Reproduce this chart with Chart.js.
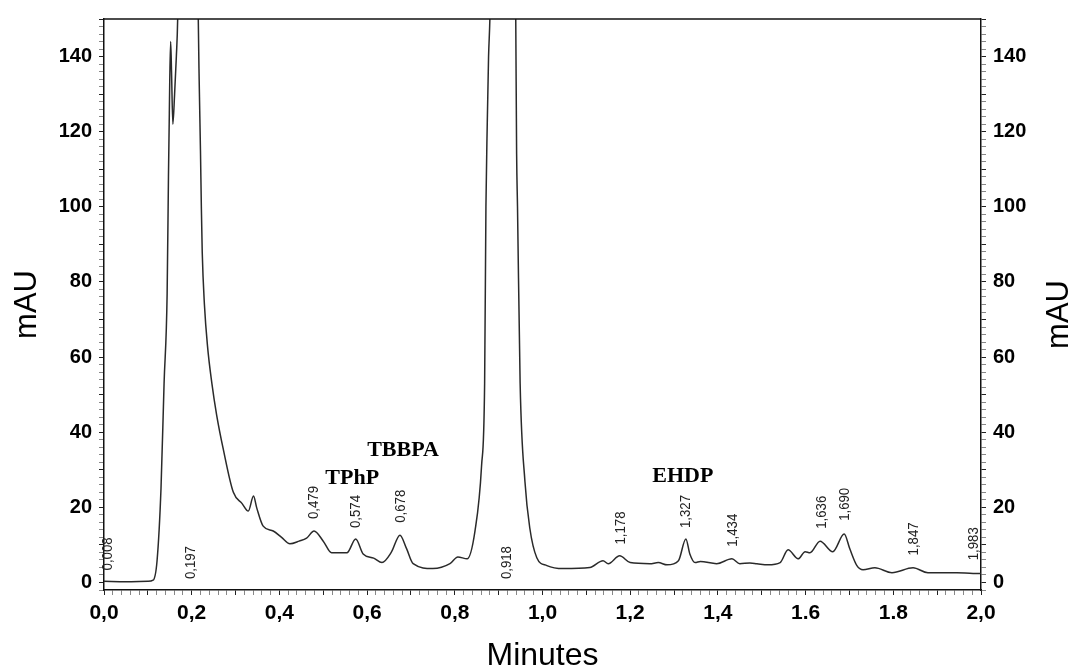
<!DOCTYPE html>
<html>
<head>
<meta charset="utf-8">
<script src="https://cdn.jsdelivr.net/npm/chart.js@4"></script>
<style>
  html, body { margin: 0; padding: 0; background: #fff; }
  #wrap { width: 1076px; height: 669px; }
</style>
</head>
<body>
<div id="wrap"><canvas id="chromChart" width="1076" height="669"></canvas></div>
<script>
// retention time (min) and absorbance (mAU)
const times = [0.000, 0.050, 0.100, 0.112, 0.121, 0.130, 0.137, 0.144, 0.147, 0.149, 0.150, 0.152, 0.154, 0.157, 0.161, 0.165, 0.168,
    0.197, 0.215, 0.217, 0.220, 0.222, 0.224, 0.229, 0.236, 0.246, 0.257, 0.272, 0.295, 0.315, 0.329, 0.341, 0.348, 0.363,
    0.386, 0.405, 0.424, 0.445, 0.462, 0.479, 0.500, 0.519, 0.554, 0.574, 0.591, 0.615, 0.634, 0.655, 0.675, 0.690,
    0.705, 0.750, 0.789, 0.807, 0.828, 0.846, 0.861, 0.868, 0.871, 0.874, 0.877, 0.880,
    0.918, 0.939, 0.941, 0.943, 0.949, 0.960, 0.971, 0.987, 1.010, 1.047, 1.108, 1.138, 1.150, 1.176, 1.200,
    1.245, 1.264, 1.284, 1.310, 1.327, 1.336, 1.348, 1.360, 1.397, 1.432, 1.450, 1.473, 1.489, 1.514, 1.542,
    1.560, 1.583, 1.599, 1.610, 1.633, 1.662, 1.688, 1.701, 1.717, 1.731, 1.758, 1.797, 1.845, 1.879, 1.945, 1.982, 2.000];
const signal = [0.3, 0.2, 0.3, 0.6, 5.8, 25, 53, 77, 108, 125, 134, 144, 136, 122, 130, 140, 150,
    400, 150, 134, 115, 100, 88, 74, 63, 53, 44.5, 35.5, 24, 21, 19, 23, 20, 15,
    13.7, 12, 10.3, 11, 11.8, 13.7, 11, 7.9, 7.9, 11.6, 7.6, 6.5, 5.3, 8, 12.6, 9,
    5, 3.7, 5, 6.8, 6.3, 13.7, 31, 53, 100, 122, 140, 150,
    400, 150, 114, 100, 53, 26.8, 14.5, 6.6, 4.5, 3.7, 4, 5.8, 5, 7.1, 5.3,
    5, 5.3, 4.7, 5.8, 11.6, 7.6, 5.3, 5.6, 5, 6.3, 5, 5.2, 5, 4.7, 5.3,
    8.7, 6.3, 8.2, 7.9, 11, 8.2, 12.9, 8.9, 4.5, 3.4, 3.9, 2.6, 3.9, 2.6, 2.6, 2.4, 2.4];

// peak retention-time labels and the mAU level where each label sits
const rtLabels = ['0,008', '0,197', '0,479', '0,574', '0,678', '0,918', '1,178', '1,327', '1,434', '1,636', '1,690', '1,847', '1,983'];
const rtLabelY = [7.6, 5.3, 21.3, 18.9, 20.3, 5.3, 14.5, 18.9, 13.9, 18.7, 20.8, 11.6, 10.3];

// compound names
const compounds = ['TBBPA', 'TPhP', 'EHDP'];
const compoundX = [0.682, 0.566, 1.320];
const compoundY = [35.3, 27.6, 28.2];

// axis tick labels
const xTickLabels = ['0,0', '0,2', '0,4', '0,6', '0,8', '1,0', '1,2', '1,4', '1.6', '1.8', '2,0'];
const yTickLabels = ['0', '20', '40', '60', '80', '100', '120', '140'];

const points = times.map((t, i) => ({ x: t, y: signal[i] }));

const tickFont = { family: 'Liberation Sans', weight: 'bold', size: 20 };

function yTick(value) {
    if (value >= 0 && value % 20 === 0) return yTickLabels[value / 20];
    return '';
}

function yTickColor(c) {
    return c.tick && c.tick.value % 10 === 0 ? '#222' : '#888';
}

const annotate = {
    id: 'annotate',
    afterDraw(chart) {
        const { ctx, chartArea, scales: { x, y } } = chart;
        ctx.save();
        // top frame line
        ctx.strokeStyle = '#111';
        ctx.lineWidth = 1.5;
        ctx.beginPath();
        ctx.moveTo(chartArea.left, chartArea.top);
        ctx.lineTo(chartArea.right, chartArea.top);
        ctx.stroke();

        // rotated retention times
        ctx.fillStyle = '#222';
        ctx.font = '15px "Liberation Sans"';
        ctx.textAlign = 'center';
        ctx.textBaseline = 'middle';
        rtLabels.forEach((lab, i) => {
            const t = parseFloat(lab.replace(',', '.'));
            ctx.save();
            ctx.translate(x.getPixelForValue(t), y.getPixelForValue(rtLabelY[i]));
            ctx.rotate(-Math.PI / 2);
            ctx.scale(0.88, 1);
            ctx.fillText(lab, 0, 0);
            ctx.restore();
        });

        // compound names
        ctx.fillStyle = '#000';
        ctx.font = 'bold 22px "Liberation Serif"';
        compounds.forEach((name, i) => {
            ctx.fillText(name, x.getPixelForValue(compoundX[i]), y.getPixelForValue(compoundY[i]));
        });

        // right axis title, same direction as the left one
        ctx.font = '31px "Liberation Sans"';
        ctx.save();
        ctx.translate(1059, (chartArea.top + chartArea.bottom) / 2 + 10);
        ctx.rotate(-Math.PI / 2);
        ctx.fillText('mAU', 0, 0);
        ctx.restore();
        ctx.restore();
    }
};

const ctx = document.getElementById('chromChart').getContext('2d');
new Chart(ctx, {
    type: 'line',
    data: {
        datasets: [{
            data: points,
            borderColor: '#2a2a2a',
            borderWidth: 1.5,
            pointRadius: 0,
            cubicInterpolationMode: 'monotone',
            fill: false
        }]
    },
    options: {
        responsive: false,
        animation: false,
        layout: { padding: { top: 14, left: 0, right: 0, bottom: 0 } },
        plugins: {
            legend: { display: false },
            tooltip: { enabled: false }
        },
        scales: {
            x: {
                type: 'linear',
                min: 0,
                max: 2,
                afterFit: s => { s.height = 79; },
                ticks: {
                    stepSize: 0.02,
                    autoSkip: false,
                    maxRotation: 0,
                    padding: 6,
                    color: '#000',
                    font: { family: 'Liberation Sans', weight: 'bold', size: 21 },
                    callback: v => {
                        const k = Math.round(v * 100);
                        return k % 20 === 0 ? xTickLabels[k / 20] : '';
                    }
                },
                grid: {
                    drawOnChartArea: false,
                    tickLength: 5,
                    tickColor: c => c.tick && Math.round(c.tick.value * 100) % 10 === 0 ? '#222' : '#888'
                },
                border: { color: '#111', width: 1.5 },
                title: {
                    display: true,
                    text: 'Minutes',
                    color: '#000',
                    font: { family: 'Liberation Sans', size: 32, lineHeight: 0.8 },
                    padding: { top: 0, bottom: 0 }
                }
            },
            y: {
                position: 'left',
                min: -2,
                max: 150,
                afterFit: s => { s.width = 104; },
                ticks: {
                    stepSize: 2,
                    autoSkip: false,
                    padding: 7,
                    color: '#000',
                    font: tickFont,
                    callback: yTick
                },
                grid: { drawOnChartArea: false, tickLength: 5, tickColor: yTickColor },
                border: { color: '#111', width: 1.5 },
                title: {
                    display: true,
                    text: 'mAU',
                    color: '#000',
                    font: { family: 'Liberation Sans', size: 31, lineHeight: 1 },
                    padding: { top: 12, bottom: 0 }
                }
            },
            y2: {
                position: 'right',
                min: -2,
                max: 150,
                afterFit: s => { s.width = 95; },
                ticks: {
                    stepSize: 2,
                    autoSkip: false,
                    padding: 7,
                    color: '#000',
                    font: tickFont,
                    callback: yTick
                },
                grid: { drawOnChartArea: false, tickLength: 5, tickColor: yTickColor },
                border: { color: '#111', width: 1.5 }
            }
        }
    },
    plugins: [annotate]
});
</script>
</body>
</html>
